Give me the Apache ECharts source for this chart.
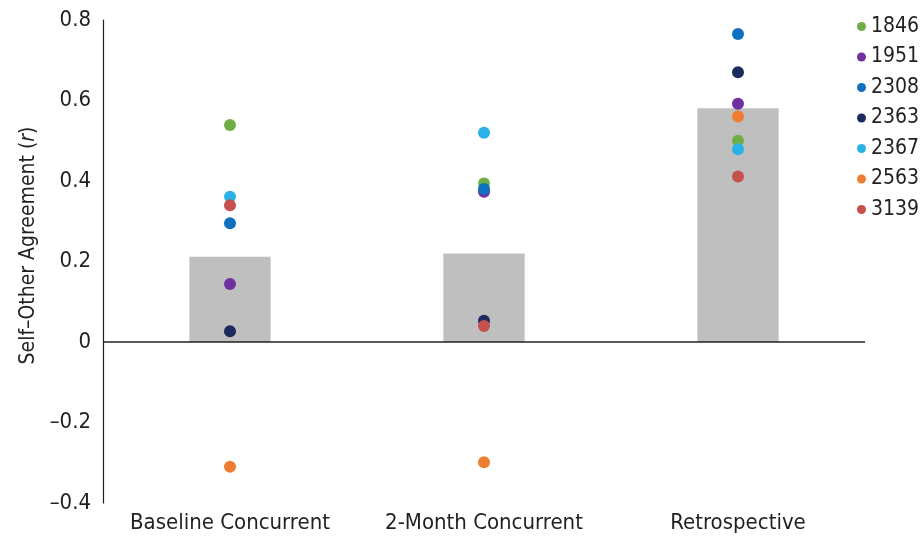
<!DOCTYPE html>
<html>
<head>
<meta charset="utf-8">
<script src="https://cdn.jsdelivr.net/npm/echarts@6/dist/echarts.min.js"></script>
<style>html,body{margin:0;padding:0;background:#fff}#c{width:921px;height:538px}</style>
</head>
<body>
<div id="c"></div>
<script>
const categories = ['Baseline Concurrent', '2-Month Concurrent', 'Retrospective'];
const meanValues = [0.212, 0.220, 0.581];
const seriesNames = ['1846', '1951', '2308', '2363', '2367', '2563', '3139'];
const v1846 = [0.539, 0.394, 0.500];
const v1951 = [0.144, 0.373, 0.592];
const v2308 = [0.295, 0.380, 0.765];
const v2363 = [0.027, 0.053, 0.670];
const v2367 = [0.361, 0.520, 0.479];
const v2563 = [-0.310, -0.299, 0.560];
const v3139 = [0.340, 0.040, 0.411];
const yTicks = [-0.4, -0.2, 0, 0.2, 0.4, 0.6, 0.8];

const pointValues = [v1846, v1951, v2308, v2363, v2367, v2563, v3139];
const colors = ['#70ad47', '#7030a0', '#0e70c0', '#1c2a5e', '#29b1e8', '#ee7d31', '#c5504c'];
const FONT = '"Liberation Sans Narrow", "Arial Narrow", "DejaVu Sans Condensed", sans-serif';
const TXT = '#231f20';

const chart = echarts.init(document.getElementById('c'));
const series = [{
  type: 'bar',
  data: meanValues,
  barWidth: '32%',
  itemStyle: { color: '#bfbfbf' },
  silent: true,
  z: 1,
  markLine: {
    silent: true, symbol: 'none', label: { show: false },
    lineStyle: { color: '#231f20', width: 1.5, type: 'solid' },
    data: [{ yAxis: 0 }], z: 2
  }
}];
seriesNames.forEach((n, i) => {
  series.push({
    type: 'scatter', name: n, data: pointValues[i],
    symbolSize: 12, itemStyle: { color: colors[i], opacity: 1 }, z: 3 + i
  });
});

chart.setOption({
  animation: false,
  backgroundColor: '#fff',
  grid: { left: 103, right: 56, top: 20, bottom: 35 },
  legend: {
    orient: 'vertical', left: 852, top: 11,
    data: seriesNames, icon: 'circle', itemWidth: 9, itemHeight: 9, itemGap: 9.5,
    textStyle: { fontFamily: FONT, fontSize: 21, color: TXT, padding: [0, 0, 0, 0], lineHeight: 20 }
  },
  xAxis: {
    type: 'category', data: categories,
    axisLine: { show: false, onZero: false }, axisTick: { show: false },
    axisLabel: { interval: 0, hideOverlap: false, fontFamily: FONT, fontSize: 22, color: TXT, margin: 9 }
  },
  yAxis: {
    type: 'value', min: -0.4, max: 0.8, interval: 0.2,
    splitLine: { show: false },
    axisLine: { show: true, lineStyle: { color: '#231f20', width: 1.2 } },
    axisTick: { show: false },
    axisLabel: {
      fontFamily: FONT, fontSize: 22, color: TXT, margin: 12,
      formatter: v => { const r = Math.round(v * 10) / 10; return r === 0 ? '0' : (r < 0 ? '\u2013' + Math.abs(r).toFixed(1) : r.toFixed(1)); }
    },
    name: '{a|Self\u2013Other Agreement (}{i|r}{a|)}',
    nameLocation: 'middle', nameGap: 64, nameRotate: 90,
    nameTextStyle: {
      padding: [0, 0, 0, 32],
      rich: {
        a: { fontFamily: FONT, fontSize: 21, color: TXT },
        i: { fontFamily: FONT, fontSize: 21, color: TXT, fontStyle: 'italic' }
      }
    }
  },
  series: series
});
</script>
</body>
</html>
